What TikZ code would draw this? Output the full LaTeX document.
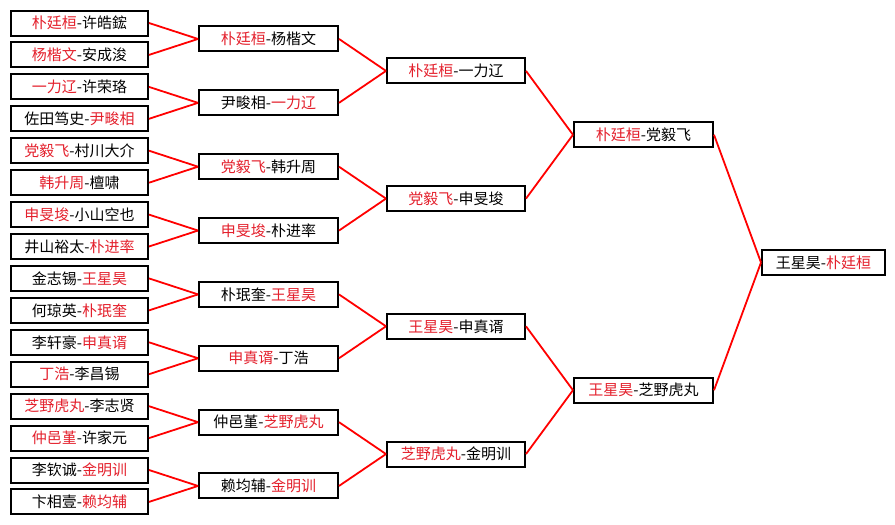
\documentclass[tikz,border=0pt]{standalone}
\usepackage{fontspec}
\setmainfont{Noto Sans CJK SC}
\usepackage{xcolor}
\definecolor{winred}{RGB}{228,32,44}
\newcommand{\win}[1]{\textcolor{winred}{#1}}

\begin{document}
\begin{tikzpicture}[x=1pt, y=-1pt,
  match/.style={draw=black, line width=2pt, fill=white, minimum width=137pt,
    minimum height=25pt, inner sep=0pt, font=\fontsize{15}{18}\selectfont},
  link/.style={red, line width=1.8pt}]
  \fill[white] (0,0) rectangle (895,525);
  \useasboundingbox (0,0) rectangle (895,525);

  % ROUND 1: sixteen pairings
  \node[match] (a1)  at (79.5, 23.0)  {\win{朴廷桓}-许皓鋐};
  \node[match] (a2)  at (79.5, 54.9)  {\win{杨楷文}-安成浚};
  \node[match] (a3)  at (79.5, 86.9)  {\win{一力辽}-许荣珞};
  \node[match] (a4)  at (79.5, 118.8) {佐田笃史-\win{尹畯相}};
  \node[match] (a5)  at (79.5, 150.7) {\win{党毅飞}-村川大介};
  \node[match] (a6)  at (79.5, 182.7) {\win{韩升周}-檀啸};
  \node[match] (a7)  at (79.5, 214.6) {\win{申旻埈}-小山空也};
  \node[match] (a8)  at (79.5, 246.5) {井山裕太-\win{朴进率}};
  \node[match] (a9)  at (79.5, 278.4) {金志锡-\win{王星昊}};
  \node[match] (a10) at (79.5, 310.4) {何琼英-\win{朴珉奎}};
  \node[match] (a11) at (79.5, 342.3) {李轩豪-\win{申真谞}};
  \node[match] (a12) at (79.5, 374.2) {\win{丁浩}-李昌锡};
  \node[match] (a13) at (79.5, 406.2) {\win{芝野虎丸}-李志贤};
  \node[match] (a14) at (79.5, 438.1) {\win{仲邑堇}-许家元};
  \node[match] (a15) at (79.5, 470.0) {李钦诚-\win{金明训}};
  \node[match] (a16) at (79.5, 501.9) {卞相壹-\win{赖均辅}};

  % ROUND 2
  \node[match, minimum width=139pt] (b1) at (268.5, 38.95)  {\win{朴廷桓}-杨楷文};
  \node[match, minimum width=139pt] (b2) at (268.5, 102.85) {尹畯相-\win{一力辽}};
  \node[match, minimum width=139pt] (b3) at (268.5, 166.7)  {\win{党毅飞}-韩升周};
  \node[match, minimum width=139pt] (b4) at (268.5, 230.55) {\win{申旻埈}-朴进率};
  \node[match, minimum width=139pt] (b5) at (268.5, 294.4)  {朴珉奎-\win{王星昊}};
  \node[match, minimum width=139pt] (b6) at (268.5, 358.25) {\win{申真谞}-丁浩};
  \node[match, minimum width=139pt] (b7) at (268.5, 422.15) {仲邑堇-\win{芝野虎丸}};
  \node[match, minimum width=139pt] (b8) at (268.5, 485.95) {赖均辅-\win{金明训}};

  % ROUND 3
  \node[match, minimum width=138pt] (c1) at (456, 70.9)   {\win{朴廷桓}-一力辽};
  \node[match, minimum width=138pt] (c2) at (456, 198.6)  {\win{党毅飞}-申旻埈};
  \node[match, minimum width=138pt] (c3) at (456, 326.3)  {\win{王星昊}-申真谞};
  \node[match, minimum width=138pt] (c4) at (456, 454.05) {\win{芝野虎丸}-金明训};

  % ROUND 4
  \node[match, minimum width=139pt] (d1) at (643.5, 134.75) {\win{朴廷桓}-党毅飞};
  \node[match, minimum width=139pt] (d2) at (643.5, 390.2)  {\win{王星昊}-芝野虎丸};

  % FINAL
  \node[match, minimum width=123pt] (f) at (823.5, 262.5) {王星昊-\win{朴廷桓}};

  % links
  \foreach \i [evaluate=\i as \j using int(2*\i-1),
               evaluate=\i as \k using int(2*\i)] in {1,...,8} {
    \draw[link] (a\j.east) -- (b\i.west);
    \draw[link] (a\k.east) -- (b\i.west);
  }
  \foreach \i [evaluate=\i as \j using int(2*\i-1),
               evaluate=\i as \k using int(2*\i)] in {1,...,4} {
    \draw[link] (b\j.east) -- (c\i.west);
    \draw[link] (b\k.east) -- (c\i.west);
  }
  \foreach \i [evaluate=\i as \j using int(2*\i-1),
               evaluate=\i as \k using int(2*\i)] in {1,2} {
    \draw[link] (c\j.east) -- (d\i.west);
    \draw[link] (c\k.east) -- (d\i.west);
  }
  \draw[link] (d1.east) -- (f.west);
  \draw[link] (d2.east) -- (f.west);
\end{tikzpicture}
\end{document}
